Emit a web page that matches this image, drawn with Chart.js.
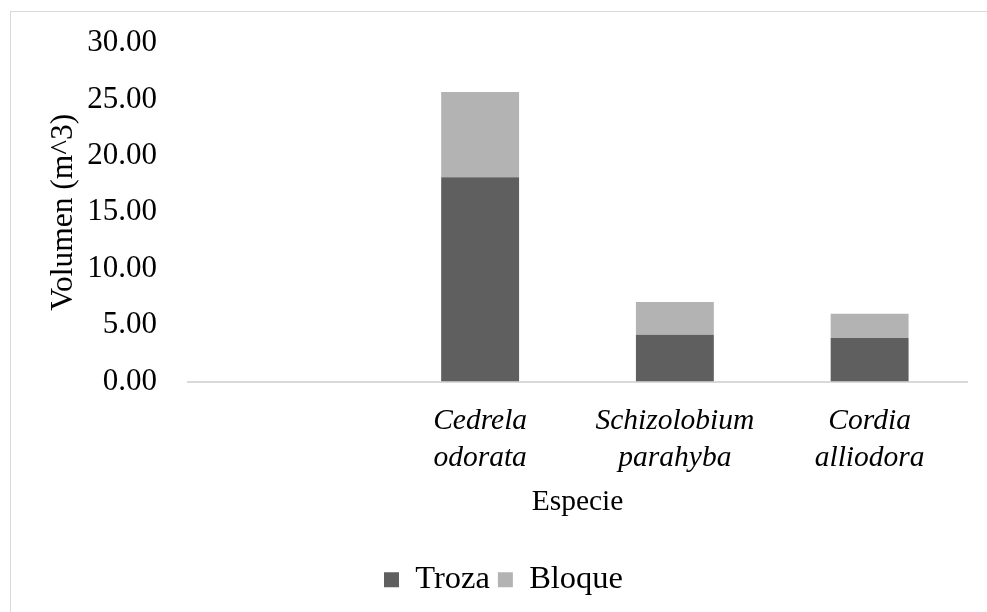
<!DOCTYPE html>
<html>
<head>
<meta charset="utf-8">
<script src="https://cdn.jsdelivr.net/npm/chart.js@4"></script>
<style>
  html, body { margin: 0; padding: 0; background: #fff; }
  #wrap { position: relative; width: 987px; height: 612px; overflow: hidden; }
  #frame { position: absolute; left: 10px; top: 11px; width: 1200px; height: 900px;
           border-top: 1px solid #d9d9d9; border-left: 1px solid #d9d9d9; box-sizing: border-box; }
  canvas { position: absolute; left: 0; top: 0; }
</style>
</head>
<body>
<div id="wrap">
  <div id="frame"></div>
  <canvas id="c" width="987" height="612"></canvas>
</div>
<script>
const categories = [["", ""], ["Cedrela", "odorata"], ["Schizolobium", "parahyba"], ["Cordia", "alliodora"]];
const trozaValues = [null, 18.1, 4.15, 3.85];
const bloqueValues = [null, 7.55, 2.9, 2.15];
const yTickMin = 0, yTickMax = 30, yTickStep = 5;

const serif = "'Liberation Serif', 'Times New Roman', serif";

new Chart(document.getElementById('c'), {
  type: 'bar',
  data: {
    labels: categories,
    datasets: [
      { label: 'Troza', data: trozaValues, backgroundColor: '#5f5f5f', borderWidth: 0 },
      { label: 'Bloque', data: bloqueValues, backgroundColor: '#b3b3b3', borderWidth: 0 }
    ]
  },
  options: {
    responsive: false,
    animation: false,
    layout: { padding: { left: 40, right: 20, top: 43, bottom: 6 } },
    datasets: { bar: { categoryPercentage: 1.0, barPercentage: 0.4 } },
    plugins: {
      legend: {
        position: 'bottom',
        labels: {
          color: '#000',
          font: { family: serif, size: 32.5 },
          boxWidth: 15, boxHeight: 15, padding: 8
        }
      },
      tooltip: { enabled: false }
    },
    scales: {
      x: {
        stacked: true,
        grid: { display: false, drawTicks: false },
        border: { display: true, color: '#d9d9d9', width: 2 },
        ticks: {
          color: '#000',
          font: { family: serif, size: 29.5, style: 'italic', lineHeight: 1.26 },
          padding: 21, maxRotation: 0, autoSkip: false
        },
        title: {
          display: true, text: 'Especie', color: '#000',
          font: { family: serif, size: 29.5 },
          padding: { top: 0, bottom: 36 }
        },
        afterFit(scale) { scale.height = 174; }
      },
      y: {
        stacked: true,
        min: yTickMin, max: yTickMax,
        grid: { display: false, drawTicks: false },
        border: { display: false },
        ticks: {
          stepSize: yTickStep, color: '#000',
          font: { family: serif, size: 31 },
          padding: 31,
          callback: v => Number(v).toFixed(2)
        },
        title: {
          display: true, text: 'Volumen (m^3)', color: '#000',
          font: { family: serif, size: 31.5, lineHeight: 1 },
          padding: { top: 8, bottom: 0 }
        },
        afterFit(scale) { scale.width = 148; scale.paddingTop = 0; scale.paddingBottom = 0; }
      }
    }
  }
});
</script>
</body>
</html>
